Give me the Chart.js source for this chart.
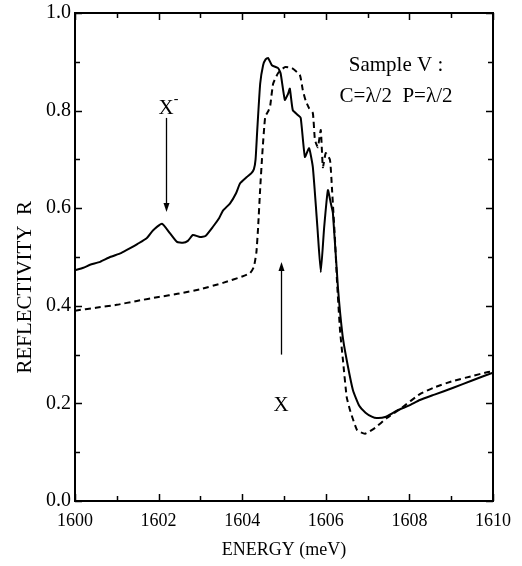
<!DOCTYPE html>
<html>
<head>
<meta charset="utf-8">
<script src="https://cdn.jsdelivr.net/npm/chart.js@4.4.1/dist/chart.umd.min.js"></script>
<style>
html,body{margin:0;padding:0;background:#fff;}
canvas{display:block;}
</style>
</head>
<body>
<canvas id="c" width="522" height="566"></canvas>
<script>
// ---- data ----
const energySolid = [1600.0,1600.2,1600.36,1600.6,1600.84,1601.1,1601.32,1601.5,1601.72,1601.87,1602.08,1602.27,1602.44,1602.58,1602.7,1602.82,1602.99,1603.12,1603.3,1603.45,1603.54,1603.71,1603.85,1603.95,1604.11,1604.22,1604.28,1604.32,1604.36,1604.43,1604.5,1604.56,1604.62,1604.71,1604.86,1604.92,1605.02,1605.1,1605.14,1605.21,1605.33,1605.4,1605.5,1605.6,1605.69,1605.8,1605.88,1605.96,1606.05,1606.12,1606.17,1606.29,1606.4,1606.5,1606.65,1606.8,1606.95,1607.1,1607.22,1607.42,1607.7,1608.0,1608.25,1608.6,1609.05,1609.5,1610.0];
const reflSolid   = [0.473,0.478,0.484,0.490,0.500,0.508,0.518,0.527,0.539,0.555,0.568,0.549,0.531,0.529,0.533,0.545,0.541,0.543,0.562,0.580,0.595,0.610,0.630,0.651,0.664,0.672,0.680,0.700,0.760,0.855,0.893,0.905,0.908,0.893,0.887,0.876,0.822,0.835,0.845,0.801,0.791,0.785,0.705,0.723,0.684,0.560,0.469,0.560,0.637,0.610,0.590,0.438,0.340,0.289,0.227,0.195,0.181,0.173,0.170,0.172,0.185,0.196,0.207,0.218,0.232,0.247,0.263];

const energyDashed = [1600.0,1600.5,1601.0,1601.48,1602.0,1602.5,1603.0,1603.54,1604.0,1604.19,1604.28,1604.34,1604.38,1604.43,1604.48,1604.55,1604.63,1604.67,1604.74,1604.86,1605.02,1605.19,1605.38,1605.45,1605.52,1605.6,1605.69,1605.74,1605.81,1605.88,1605.93,1606.0,1606.1,1606.15,1606.22,1606.27,1606.34,1606.41,1606.5,1606.58,1606.75,1606.94,1607.18,1607.46,1607.8,1608.25,1608.6,1609.05,1609.5,1609.86,1610.0];
const reflDashed   = [0.390,0.396,0.402,0.410,0.418,0.425,0.434,0.447,0.460,0.467,0.480,0.510,0.560,0.640,0.710,0.787,0.800,0.810,0.855,0.877,0.889,0.887,0.873,0.842,0.820,0.805,0.795,0.740,0.725,0.760,0.684,0.713,0.699,0.637,0.535,0.447,0.350,0.289,0.213,0.186,0.145,0.138,0.150,0.170,0.190,0.219,0.233,0.246,0.256,0.264,0.266];

const xMajorTicks = [1600,1602,1604,1606,1608,1610];
const xMinorTicks = [1601,1603,1605,1607,1609];
const yMajorTicks = [0.0,0.2,0.4,0.6,0.8,1.0];
const yMinorTicks = [0.1,0.3,0.5,0.7,0.9];

const xTitle = "ENERGY (meV)";
const yTitle = "REFLECTIVITY  R";
const sampleLine1 = "Sample V :";
const sampleLine2 = "C=\u03BB/2  P=\u03BB/2";
// annotation anchors in data units
const xMinusLabel = {x:1602.18, y:0.805};
const xMinusArrow = {x:1602.18, from:0.785, to:0.592};
const xLabel = {x:1604.93, y:0.196};
const xArrow = {x:1604.93, from:0.300, to:0.490};
const sampleAnchor = {x:1607.68, y1:0.893, y2:0.828};
const yTitleCenter = 0.438;

const SERIF = '"Liberation Serif", "DejaVu Serif", serif';

function toPoints(xs, ys){ return xs.map((x,i)=>({x:x, y:ys[i]})); }

const framePlugin = {
  id:'frame',
  afterDatasetsDraw(chart){
    const ctx = chart.ctx;
    const a = chart.chartArea;
    const xs = chart.scales.x, ys = chart.scales.y;
    ctx.save();
    ctx.strokeStyle = '#000';
    ctx.lineWidth = 2;
    ctx.strokeRect(a.left, a.top, a.right-a.left, a.bottom-a.top);
    ctx.lineWidth = 1.5;
    const tick = (vals, len) => {
      vals.forEach(v=>{
        const px = Math.round(xs.getPixelForValue(v))+0.5;
        ctx.beginPath();
        ctx.moveTo(px, a.bottom); ctx.lineTo(px, a.bottom-len);
        ctx.moveTo(px, a.top); ctx.lineTo(px, a.top+len);
        ctx.stroke();
      });
    };
    const ytick = (vals, len) => {
      vals.forEach(v=>{
        const py = Math.round(ys.getPixelForValue(v))+0.5;
        ctx.beginPath();
        ctx.moveTo(a.left, py); ctx.lineTo(a.left+len, py);
        ctx.moveTo(a.right, py); ctx.lineTo(a.right-len, py);
        ctx.stroke();
      });
    };
    tick(xMajorTicks, 7); tick(xMinorTicks, 5);
    ytick(yMajorTicks, 7); ytick(yMinorTicks, 5);

    // y axis title (rotated)
    ctx.fillStyle = '#000';
    ctx.save();
    ctx.translate(ys.left + 25, ys.getPixelForValue(yTitleCenter));
    ctx.rotate(-Math.PI/2);
    ctx.textAlign = 'center';
    ctx.textBaseline = 'middle';
    ctx.font = '21px ' + SERIF;
    ctx.fillText(yTitle, 0, 0);
    ctx.restore();

    // annotations
    ctx.textAlign = 'center';
    ctx.textBaseline = 'middle';
    ctx.font = '21px ' + SERIF;
    ctx.fillText(sampleLine1, xs.getPixelForValue(sampleAnchor.x), ys.getPixelForValue(sampleAnchor.y1));
    ctx.fillText(sampleLine2, xs.getPixelForValue(sampleAnchor.x), ys.getPixelForValue(sampleAnchor.y2));

    ctx.font = '21px ' + SERIF;
    const xmx = xs.getPixelForValue(xMinusLabel.x), xmy = ys.getPixelForValue(xMinusLabel.y);
    ctx.fillText('X', xmx, xmy);
    ctx.font = '14px ' + SERIF;
    ctx.fillText('-', xmx+10, xmy-9);

    ctx.font = '21px ' + SERIF;
    ctx.fillText('X', xs.getPixelForValue(xLabel.x), ys.getPixelForValue(xLabel.y));

    const arrow = (xv, fromV, toV) => {
      const px = Math.round(xs.getPixelForValue(xv))+0.5;
      const y0 = ys.getPixelForValue(fromV), y1 = ys.getPixelForValue(toV);
      const dir = y1 > y0 ? 1 : -1;
      ctx.lineWidth = 1.3;
      ctx.beginPath(); ctx.moveTo(px, y0); ctx.lineTo(px, y1 - dir*6); ctx.stroke();
      ctx.beginPath();
      ctx.moveTo(px, y1);
      ctx.lineTo(px-3, y1 - dir*9);
      ctx.lineTo(px+3, y1 - dir*9);
      ctx.closePath(); ctx.fill();
    };
    arrow(xMinusArrow.x, xMinusArrow.from, xMinusArrow.to);
    arrow(xArrow.x, xArrow.from, xArrow.to);
    ctx.restore();
  }
};

new Chart(document.getElementById('c'), {
  type:'line',
  data:{
    datasets:[
      {data:toPoints(energySolid, reflSolid), borderColor:'#000', borderWidth:2, pointRadius:0, tension:0.15, fill:false},
      {data:toPoints(energyDashed, reflDashed), borderColor:'#000', borderWidth:2, borderDash:[6,4], pointRadius:0, tension:0.15, fill:false}
    ]
  },
  options:{
    responsive:false,
    animation:false,
    events:[],
    layout:{padding:{top:13, right:29, left:0, bottom:0}},
    plugins:{legend:{display:false}, tooltip:{enabled:false}},
    scales:{
      x:{
        type:'linear', min:1600, max:1610,
        afterBuildTicks(s){ s.ticks = xMajorTicks.map(v=>({value:v})); },
        afterFit(s){ s.height = 65; s.paddingLeft = 0; s.paddingRight = 0; },
        grid:{display:false, drawTicks:false},
        border:{display:false},
        ticks:{color:'#000', padding:9, maxRotation:0, autoSkip:false, font:{family:SERIF, size:18}, callback:v=>String(v)},
        title:{display:true, text:xTitle, color:'#000', font:{family:SERIF, size:18}, padding:{top:0, bottom:5}}
      },
      y:{
        type:'linear', min:0, max:1,
        afterBuildTicks(s){ s.ticks = yMajorTicks.map(v=>({value:v})); },
        afterFit(s){ s.width = 75; s.paddingTop = 0; s.paddingBottom = 0; },
        grid:{display:false, drawTicks:false},
        border:{display:false},
        ticks:{color:'#000', padding:4, autoSkip:false, font:{family:SERIF, size:20, lineHeight:1}, callback:v=>Number(v).toFixed(1)},
        title:{display:false}
      }
    }
  },
  plugins:[framePlugin]
});
</script>
</body>
</html>
